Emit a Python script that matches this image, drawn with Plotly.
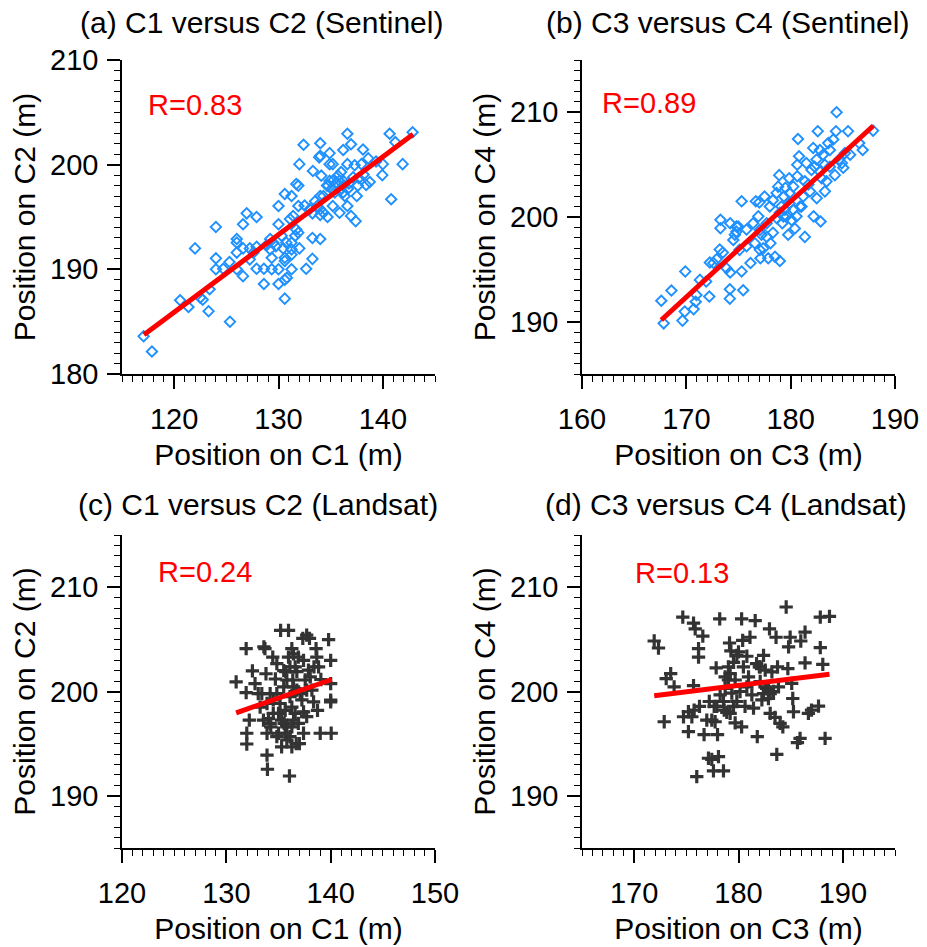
import plotly.graph_objects as go

# ---------------- data ----------------
a_x = [117.07, 117.87, 120.57, 121.37, 122.0, 122.5, 122.74, 123.3, 123.4, 124.0, 124.0, 124.0, 124.7, 125.3,
       125.35, 126.0, 126.0, 126.0, 126.0, 126.6, 126.6, 126.6, 126.95, 127.25, 127.25, 127.9, 127.9, 127.9,
       128.6, 128.6, 129.2, 129.2, 129.35, 129.35, 129.5, 130.0, 130.0, 130.0, 130.0, 130.3, 130.45, 130.6,
       130.6, 130.6, 130.6, 130.6, 130.8, 131.1, 131.25, 131.25, 131.25, 131.25, 131.25, 131.4, 131.6, 131.7,
       131.9, 131.9, 131.9, 132.0, 132.0, 132.5, 132.65, 133.25, 133.25, 133.25, 133.3, 132.4, 133.7, 134.0,
       134.0, 134.0, 134.0, 133.9, 134.0, 134.1, 134.3, 134.7, 134.75, 134.9, 134.9, 135.2, 135.2, 135.3,
       135.55, 135.7, 135.85, 135.85, 136.0, 136.2, 136.2, 136.25, 136.6, 136.6, 136.6, 136.75, 136.95, 136.95,
       137.4, 137.5, 137.6, 137.95, 138.1, 138.15, 138.4, 138.6, 138.75, 139.35, 139.95, 140.0, 140.65, 140.8,
       141.2, 141.9, 142.85,
       134.3, 134.65, 134.9, 135.1, 135.4, 135.85, 136.2, 136.35, 136.65, 137.15, 137.3, 137.7, 134.0, 133.5,
       133.0, 131.7, 130.75, 129.75, 128.85, 127.6]
a_y = [183.6, 182.15, 187.05, 186.4, 192.0, 187.3, 187.1, 186.0, 188.1, 194.05, 191.05, 190.0, 190.05, 190.7,
       185.0, 192.9, 192.55, 191.6, 190.0, 194.3, 192.0, 189.35, 195.35, 192.0, 190.95, 195.0, 192.15, 190.05,
       190.05, 188.6, 192.9, 191.9, 191.1, 190.0, 192.55, 196.05, 194.3, 190.0, 188.6, 193.2, 192.0, 197.2,
       191.1, 190.8, 189.0, 187.2, 189.2, 194.8, 197.0, 192.55, 191.9, 191.4, 190.0, 195.1, 193.2, 198.15,
       198.0, 196.05, 193.5, 192.0, 200.05, 196.1, 190.05, 193.0, 191.0, 195.35, 199.4, 201.9, 196.05, 202.05,
       197.0, 195.75, 192.9, 200.7, 200.85, 198.95, 195.4, 195.0, 198.0, 201.1, 200.05, 200.05, 196.05, 198.55,
       198.3, 198.95, 195.4, 197.55, 199.3, 201.4, 197.35, 198.4, 202.95, 200.05, 196.05, 198.2, 201.95, 195.1,
       194.6, 197.0, 198.0, 200.05, 201.45, 199.05, 198.05, 200.6, 198.35, 200.3, 199.0, 200.05, 202.95, 196.7,
       202.15, 200.05, 203.1,
       197.0, 198.0, 198.45, 197.7, 197.35, 198.45, 198.0, 197.0, 197.7, 198.8, 199.95, 198.7, 195.2, 196.5,
       195.75, 193.8, 192.55, 192.2, 192.3, 191.6]
a_fit_x = [117.1, 142.9]
a_fit_y = [183.75, 202.9]

b_x = [167.83, 167.6, 168.57, 169.63, 169.85, 169.9, 170.7, 170.9, 170.97, 171.3, 171.9, 172.2, 172.25, 172.6,
       172.9, 173.2, 173.27, 173.27, 173.5, 173.85, 174.17, 174.17, 174.2, 174.2, 174.5, 174.65, 174.8, 174.97,
       175.1, 175.3, 175.3, 175.45, 175.77, 176.15, 176.4, 176.57, 176.66, 176.9, 177.0, 177.05, 177.1, 177.2,
       177.37, 177.5, 177.7, 177.85, 178.0, 178.07, 178.3, 178.5, 178.65, 178.8, 178.9, 178.96, 179.1, 179.3,
       179.35, 179.5, 179.76, 179.86, 179.9, 180.1, 180.25, 180.4, 180.63, 180.63, 180.7, 180.8, 180.9, 181.2,
       181.36, 181.5, 181.7, 181.85, 182.16, 182.2, 182.3, 182.5, 182.6, 182.8, 182.87, 182.96, 183.1, 183.28,
       183.44, 183.6, 183.76, 184.08, 184.24, 184.34, 184.4, 184.65, 184.9, 185.04, 185.2, 185.5, 185.7, 186.57,
       186.9, 187.9,
       178.3, 178.65, 178.96, 179.2, 179.44, 179.6, 179.9, 180.25, 180.56, 181.04, 181.36, 182.0, 182.48, 182.8,
       183.28, 183.76, 177.7, 177.05, 174.8, 175.77]
b_y = [189.84, 192.0, 192.97, 190.1, 190.96, 194.8, 191.2, 191.9, 192.55, 193.99, 193.83, 192.4, 195.65, 195.6,
       195.97, 196.9, 198.93, 199.73, 196.6, 195.1, 193.1, 192.2, 199.4, 194.7, 197.8, 198.3, 198.6, 199.1,
       196.86, 201.5, 194.8, 193.0, 198.8, 195.6, 199.4, 197.5, 201.5, 200.06, 201.4, 196.86, 196.06, 198.3,
       197.0, 201.96, 199.4, 196.06, 201.0, 197.5, 198.5, 196.2, 199.9, 202.9, 204.0, 195.8, 201.0, 200.06,
       201.96, 202.8, 198.3, 203.7, 201.3, 199.7, 200.7, 198.9, 203.9, 205.0, 207.45, 205.8, 201.0, 201.96,
       198.1, 205.15, 203.1, 202.45, 206.6, 200.06, 204.8, 201.8, 208.2, 206.4, 199.57, 203.7, 205.95, 202.45,
       203.4, 207.06, 204.8, 207.4, 204.0, 208.2, 210.0, 205.5, 205.15, 204.7, 206.1, 208.2, 205.95, 207.06,
       206.4, 208.25,
       201.6, 202.3, 200.4, 199.4, 200.7, 200.06, 202.3, 202.9, 200.06, 201.0, 203.4, 204.5, 205.5, 204.35,
       205.0, 206.4, 198.1, 198.75, 199.1, 197.2]
b_fit_x = [167.6, 187.92]
b_fit_y = [190.16, 208.72]

c_x = [130.94, 131.9, 131.9, 131.96, 131.96, 132.2, 132.5, 132.75, 133.06, 133.24, 133.6, 133.7, 133.8, 133.9,
       133.9, 133.94, 134.04, 134.2, 134.26, 134.45, 134.5, 134.7, 134.84, 135.0, 135.0, 135.2, 135.3, 135.5,
       135.54, 135.7, 135.96, 135.96, 136.05, 136.1, 136.1, 136.28, 136.28, 136.37, 136.44, 136.6, 136.7,
       136.76, 136.9, 137.0, 137.24, 137.33, 137.4, 137.56, 137.7, 137.87, 137.97, 138.2, 138.36, 138.6,
       138.67, 138.74, 138.84, 139.0, 139.06, 139.8, 140.0, 140.0, 140.0, 140.0, 140.05,
       134.84, 135.15, 135.3, 135.64, 135.8, 135.8, 136.1, 136.28, 136.44, 136.6, 136.76, 136.9, 137.08, 137.4,
       137.7, 138.04, 138.4, 133.9, 133.56, 133.4, 134.5, 134.2, 134.84, 135.8, 135.5, 136.44, 137.4, 137.7,
       135.64, 136.28]
c_y = [200.92, 204.1, 199.9, 196.0, 194.97, 197.26, 201.97, 200.76, 199.8, 198.5, 204.27, 204.1, 201.7, 196.0,
       193.9, 192.55, 197.4, 199.8, 196.6, 203.3, 199.2, 201.2, 202.67, 197.9, 196.0, 205.86, 194.7, 200.45,
       196.94, 201.9, 205.86, 203.3, 191.9, 199.5, 195.67, 204.1, 198.5, 201.1, 197.26, 202.36, 195.0,
       200.13, 203.3, 195.0, 199.2, 205.1, 196.0, 201.1, 205.4, 202.04, 205.1, 200.13, 199.0, 204.1,
       203.3, 198.2, 202.36, 196.0, 201.15, 204.97, 202.99, 200.76, 199.17, 199.0, 196.0,
       199.8, 198.85, 197.26, 198.2, 201.1, 196.6, 202.36, 196.6, 200.45, 197.9, 201.9, 196.94, 199.8, 198.05,
       200.13, 201.4, 202.36, 198.85, 197.26, 199.8, 197.9, 196.94, 195.67, 195.35, 202.0, 203.6, 202.99, 197.6,
       196.0, 194.7]
c_fit_x = [130.94, 140.1]
c_fit_y = [197.96, 201.15]

d_x = [171.92, 172.33, 172.88, 173.07, 173.5, 173.83, 174.66, 174.73, 175.2, 175.2, 175.53, 175.69, 175.69,
       175.75, 175.85, 176.0, 176.17, 176.17, 176.26, 176.58, 176.7, 176.96, 177.12, 177.2, 177.44, 177.6,
       177.67, 177.76, 177.86, 177.99, 178.08, 178.2, 178.24, 178.56, 178.63, 178.72, 178.88, 179.04, 179.14,
       179.2, 179.27, 179.36, 179.52, 179.68, 179.84, 180.0, 180.15, 180.3, 180.3, 180.4, 180.47, 180.63, 180.8,
       180.96, 181.1, 181.28, 181.44, 181.6, 181.8, 182.0, 182.08, 182.24, 182.4, 182.56, 182.7, 182.87, 182.97,
       183.04, 183.2, 183.35, 183.5, 183.6, 183.67, 183.74, 183.83, 183.99, 184.25, 184.57, 184.73, 184.8,
       184.95, 185.1, 185.2, 185.27, 185.65, 185.9, 185.97, 186.38, 186.38, 186.7, 187.0, 187.67, 187.84,
       187.84, 188.08, 188.3, 188.72,
       178.72, 179.04, 179.2, 179.52, 179.68, 179.84, 180.8, 181.73, 182.08, 182.4, 182.56, 182.87, 183.04,
       178.56, 177.92, 177.44]
d_y = [204.84, 204.17, 197.1, 201.24, 201.72, 200.45, 207.13, 197.58, 196.15, 198.06, 197.58, 206.56, 200.57,
       198.22, 206.0, 191.85, 204.1, 203.3, 198.57, 205.3, 195.86, 197.26, 193.6, 199.04, 193.5, 192.4,
       198.57, 197.1, 202.26, 195.86, 193.76, 206.97, 199.68, 192.4, 198.22, 200.29, 197.99, 202.36, 204.65,
       201.72, 203.9, 199.84, 202.8, 197.0, 199.04, 203.8, 200.0, 206.97, 196.6, 204.9, 202.36, 198.57, 203.38,
       201.4, 205.2, 199.68, 198.4, 206.8, 195.67, 202.36, 200.96, 199.2, 203.47, 202.04, 200.3, 199.33, 206.0,
       197.9, 201.88, 200.0, 197.52, 205.2, 193.98, 202.36, 200.45, 196.94, 196.6, 208.1, 202.2, 204.27,
       205.2, 200.77, 199.33, 198.06, 195.1, 195.5, 204.84, 205.7, 202.74, 197.9, 198.22, 198.6, 207.13,
       204.2, 202.6, 195.5, 207.2,
       201.4, 201.1, 197.9, 198.57, 201.1, 203.47, 200.45, 202.67, 202.36, 199.8, 200.45, 200.13, 199.8,
       199.04, 198.57, 197.26]
d_fit_x = [171.92, 188.72]
d_fit_y = [199.6, 201.66]

panel_titles = ["(a) C1 versus C2 (Sentinel)", "(b) C3 versus C4 (Sentinel)",
                "(c) C1 versus C2 (Landsat)", "(d) C3 versus C4 (Landsat)"]
r_labels = ["R=0.83", "R=0.89", "R=0.24", "R=0.13"]
x_titles = ["Position on C1 (m)", "Position on C3 (m)", "Position on C1 (m)", "Position on C3 (m)"]
y_titles = ["Position on C2 (m)", "Position on C4 (m)", "Position on C2 (m)", "Position on C4 (m)"]
x_ranges = [[115, 145], [160, 190], [120, 150], [165, 195]]
y_ranges = [[180, 210], [185, 215], [185, 215], [185, 215]]
r_pos = [(117.3, 205.7), (161.7, 210.9), (123.3, 211.5), (169.9, 211.4)]

# ---------------- figure ----------------
W, H = 927, 947
FONT = "Liberation Sans, Arial, sans-serif"
BLUE = "#1E90FF"
DARK = "#333333"
RED = "#FF0000"

# plot-area pixel boxes (left, right, top, bottom)
boxes = [(122, 435, 60, 374), (582, 895, 60, 374), (122, 435, 535, 848), (582, 895, 535, 848)]

fig = go.Figure()
series = [(a_x, a_y, a_fit_x, a_fit_y), (b_x, b_y, b_fit_x, b_fit_y),
          (c_x, c_y, c_fit_x, c_fit_y), (d_x, d_y, d_fit_x, d_fit_y)]

layout = {}
for i, (sx, sy, fx, fy) in enumerate(series):
    n = i + 1
    xa = "x" if n == 1 else f"x{n}"
    ya = "y" if n == 1 else f"y{n}"
    if i < 2:
        marker = dict(symbol="diamond-open", size=8, color=BLUE, line=dict(width=1.9, color=BLUE))
    else:
        marker = dict(symbol="cross-thin-open", size=9.5, color=DARK, line=dict(width=3.2, color=DARK))
    fig.add_trace(go.Scatter(x=sx, y=sy, mode="markers", marker=marker, xaxis=xa, yaxis=ya,
                             showlegend=False, hoverinfo="x+y"))
    fig.add_trace(go.Scatter(x=fx, y=fy, mode="lines", line=dict(color=RED, width=5),
                             xaxis=xa, yaxis=ya, showlegend=False))

    l, r, t, b = boxes[i]
    common = dict(showline=True, linecolor="black", linewidth=1.5, mirror=False, automargin=False,
                  showgrid=False, zeroline=False, ticks="outside", ticklen=13, tickwidth=1.5,
                  tickcolor="black", dtick=10,
                  tickfont=dict(family=FONT, size=29, color="black"),
                  minor=dict(dtick=1, ticks="outside", ticklen=6, tickwidth=1.2, tickcolor="black",
                             showgrid=False))
    layout["xaxis" if n == 1 else f"xaxis{n}"] = dict(
        common, domain=[l / W, r / W], range=x_ranges[i], anchor=ya,
        ticklabelstandoff=5,
        title=dict(text=x_titles[i], font=dict(family=FONT, size=30, color="black"), standoff=10))
    layout["yaxis" if n == 1 else f"yaxis{n}"] = dict(
        common, domain=[1 - b / H, 1 - t / H], range=y_ranges[i], anchor=xa,
        ticklabelstandoff=3,
        title=dict(text=y_titles[i], font=dict(family=FONT, size=30, color="black"), standoff=6))

fig.update_layout(**layout)

title_centers = [(261, 23), (727, 23), (258, 504), (726, 504)]
annotations = []
for i in range(4):
    cx, cy = title_centers[i]
    annotations.append(dict(text=panel_titles[i], x=cx / W, y=1 - cy / H, xref="paper", yref="paper",
                            xanchor="center", yanchor="middle", showarrow=False,
                            font=dict(family=FONT, size=30, color="black")))
    n = i + 1
    annotations.append(dict(text=r_labels[i], x=r_pos[i][0], y=r_pos[i][1],
                            xref="x" if n == 1 else f"x{n}", yref="y" if n == 1 else f"y{n}",
                            xanchor="left", yanchor="middle", showarrow=False,
                            font=dict(family=FONT, size=29, color=RED)))

fig.update_layout(width=W, height=H, margin=dict(l=0, r=0, t=0, b=0),
                  paper_bgcolor="white", plot_bgcolor="white", annotations=annotations)

fig.write_html("out.html", config={"displayModeBar": False},
               post_script="document.body.style.margin='0';")
